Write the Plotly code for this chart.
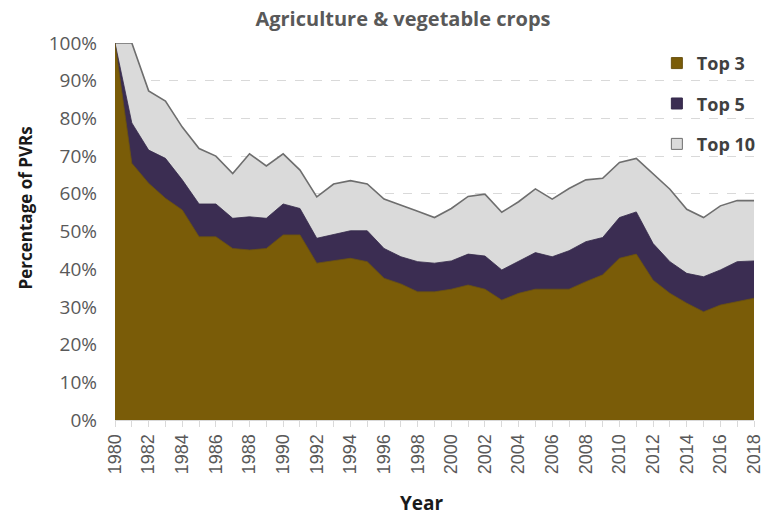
import plotly.graph_objects as go

# Share of plant variety rights held by the leading applicants (cumulative)
years = list(range(1980, 2019))

top3 = [1.000, 0.681, 0.628, 0.588, 0.557, 0.486, 0.486, 0.455, 0.451, 0.455,
        0.491, 0.491, 0.416, 0.422, 0.429, 0.420, 0.376, 0.361, 0.340, 0.340,
        0.347, 0.358, 0.347, 0.318, 0.336, 0.347, 0.347, 0.347, 0.367, 0.385,
        0.429, 0.440, 0.371, 0.336, 0.310, 0.287, 0.305, 0.314, 0.323]

top5 = [1.000, 0.788, 0.716, 0.694, 0.637, 0.573, 0.573, 0.535, 0.539, 0.535,
        0.573, 0.561, 0.482, 0.493, 0.502, 0.502, 0.455, 0.433, 0.420, 0.416,
        0.422, 0.440, 0.435, 0.398, 0.422, 0.444, 0.433, 0.449, 0.473, 0.484,
        0.537, 0.552, 0.468, 0.420, 0.389, 0.380, 0.398, 0.420, 0.422]

top10 = [1.000, 1.000, 0.873, 0.846, 0.777, 0.720, 0.700, 0.654, 0.706, 0.674,
         0.706, 0.663, 0.592, 0.626, 0.635, 0.626, 0.586, 0.571, 0.554, 0.537,
         0.561, 0.593, 0.599, 0.551, 0.579, 0.613, 0.586, 0.614, 0.637, 0.641,
         0.683, 0.694, 0.654, 0.612, 0.559, 0.537, 0.568, 0.582, 0.582]

year_ticks = list(range(1980, 2019, 2))
pct_ticks = [i / 10 for i in range(11)]

names = ["Top 3", "Top 5", "Top 10"]
fills = {"Top 3": "#7a5c08", "Top 5": "#3b2d52", "Top 10": "#dadada"}
edges = {"Top 3": "#6a5212", "Top 5": "#35294a", "Top 10": "#6e6e6e"}
series = {"Top 3": top3, "Top 5": top5, "Top 10": top10}

fig = go.Figure()

# Widest group at the back, narrower groups layered in front
for name in reversed(names):
    fig.add_trace(go.Scatter(
        x=years, y=series[name], mode="lines", fill="tozeroy",
        fillcolor=fills[name],
        line=dict(color=edges[name], width=1.6 if name == "Top 10" else 0.8),
        showlegend=False, hoverinfo="x+y", name=name,
    ))

# Square swatches for the legend
for name in names:
    fig.add_trace(go.Scatter(
        x=[None], y=[None], mode="markers", name=name,
        legendgroup=name,
        marker=dict(symbol="square", size=11, color=fills[name],
                    line=dict(color=edges[name], width=1)),
    ))

fig.update_layout(
    width=776, height=517,
    margin=dict(l=115, r=12, t=43, b=97),
    paper_bgcolor="white", plot_bgcolor="white",
    title=dict(text="<b>Agriculture & vegetable crops</b>",
               x=403 / 776, xref="container", xanchor="center",
               y=1 - 19 / 517, yref="container", yanchor="middle",
               font=dict(family="Open Sans", size=20, color="#595959")),
    legend=dict(x=0.848, y=0.995, xanchor="left", yanchor="top",
                bgcolor="rgba(0,0,0,0)", traceorder="grouped",
                tracegroupgap=14, itemwidth=30,
                font=dict(family="Open Sans", size=18, color="#404040",
                          weight="bold")),
    xaxis=dict(range=[1980, 2018], tickvals=year_ticks,
               ticktext=[str(y) for y in year_ticks],
               tickangle=-90, showgrid=False, zeroline=False,
               showline=True, linecolor="#d9d9d9", linewidth=1,
               ticks="outside", ticklen=6, tickcolor="#d9d9d9",
               minor=dict(dtick=1, tick0=1980, ticks="outside", ticklen=6,
                          tickcolor="#d9d9d9", showgrid=False),
               tickfont=dict(family="Liberation Sans", size=18,
                             color="#595959")),
    yaxis=dict(range=[0, 1], tickvals=pct_ticks, tickformat=".0%",
               showgrid=True, gridcolor="#d9d9d9", griddash="dash",
               gridwidth=1, zeroline=False, showline=False,
               ticklabelstandoff=17,
               tickfont=dict(family="Open Sans", size=19, color="#595959")),
    annotations=[
        dict(text="<b>Percentage of PVRs</b>", textangle=-90,
             xref="paper", yref="paper",
             x=-91 / 649, y=(420 - 208) / 377,
             xanchor="center", yanchor="middle", showarrow=False,
             font=dict(family="Open Sans", size=17, color="#1a1a1a")),
        dict(text="<b>Year</b>", xref="paper", yref="paper",
             x=(427 - 115) / 649, y=-(503 - 420) / 377,
             xanchor="center", yanchor="middle", showarrow=False,
             font=dict(family="Open Sans", size=19, color="#1a1a1a")),
    ],
)

fig.write_html("out.html")
